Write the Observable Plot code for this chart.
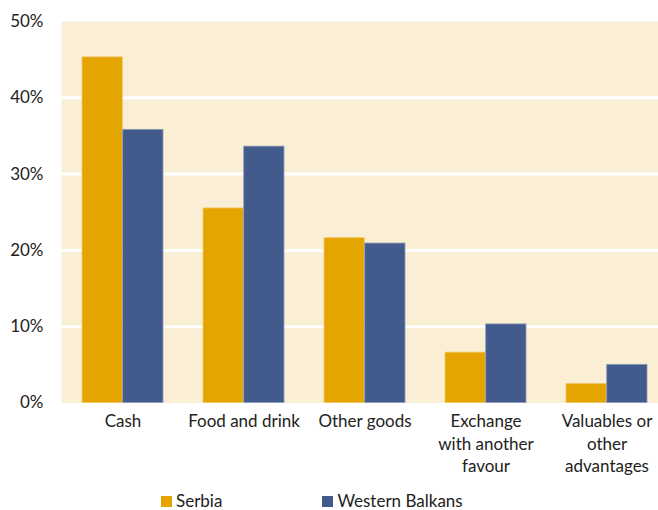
<!DOCTYPE html>
<html>
<head>
<meta charset="utf-8">
<script src="https://cdn.jsdelivr.net/npm/d3@7"></script>
<script src="https://cdn.jsdelivr.net/npm/@observablehq/plot@0.6"></script>
<style>
  html, body { margin: 0; padding: 0; background: #fff; overflow: hidden; width: 658px; height: 510px; }
  #wrap { position: relative; width: 658px; height: 510px; overflow: hidden; font-family: Lato, "Open Sans", sans-serif; }
  #chart svg { max-width: none !important; }
  #legend { position: absolute; left: 161px; top: 493px; display: flex; align-items: center; font-size: 17px; line-height: 16px; color: #222; }
  .item { display: flex; align-items: center; }
  .sw { width: 11px; height: 11px; margin-right: 4px; }
</style>
</head>
<body>
<div id="wrap">
  <div id="chart"></div>
  <div id="legend"></div>
</div>
<script>
const categories = ["Cash", "Food and drink", "Other goods", "Exchange\nwith another\nfavour", "Valuables or\nother\nadvantages"];
const serbia = [45.3, 25.5, 21.6, 6.6, 2.5];
const westernBalkans = [35.8, 33.6, 20.9, 10.3, 5.0];
const seriesNames = ["Serbia", "Western Balkans"];
const seriesColors = ["#e5a500", "#425b8c"];
const yTicks = [0, 10, 20, 30, 40, 50];
const gridTicks = [10, 20, 30, 40];

const data = [];
categories.forEach((c, i) => {
  data.push({category: c, series: seriesNames[0], value: serbia[i]});
  data.push({category: c, series: seriesNames[1], value: westernBalkans[i]});
});

const chart = Plot.plot({
  width: 668,
  height: 480,
  marginLeft: 61,
  marginRight: 0,
  marginTop: 21,
  marginBottom: 77.5,
  style: {fontFamily: "Lato, 'Open Sans', sans-serif", fontSize: "17px", color: "#222", background: "transparent", maxWidth: "none"},
  x: {domain: categories, padding: 0, label: null},
  y: {domain: [0, 50], label: null},
  color: {domain: seriesNames, range: seriesColors},
  marks: [
    Plot.frame({fill: "#faeed4", stroke: null}),
    Plot.ruleY(gridTicks, {stroke: "#ffffff", strokeWidth: 3}),
    Plot.barY(data.filter(d => d.series === seriesNames[0]), {
      x: "category", y: "value", fill: "series",
      insetLeft: 20, insetRight: 60.7,
      stroke: "#f2c866", strokeWidth: 0.8
    }),
    Plot.barY(data.filter(d => d.series === seriesNames[1]), {
      x: "category", y: "value", fill: "series",
      insetLeft: 60.7, insetRight: 20,
      stroke: "#8d9cbb", strokeWidth: 0.8
    }),
    Plot.axisY({ticks: yTicks, tickFormat: d => d + "%", tickSize: 0, tickPadding: 18, label: null, fontSize: 17}),
    Plot.axisX({tickSize: 0, tickPadding: 8, label: null, lineHeight: 1.33, fontSize: 17})
  ]
});
document.getElementById("chart").appendChild(chart);

const legend = document.getElementById("legend");
seriesNames.forEach((name, i) => {
  const it = document.createElement("div");
  it.className = "item";
  it.style.marginRight = i === 0 ? "100px" : "0";
  const sw = document.createElement("div");
  sw.className = "sw";
  sw.style.background = seriesColors[i];
  const t = document.createElement("span");
  t.textContent = name;
  it.appendChild(sw);
  it.appendChild(t);
  legend.appendChild(it);
});
</script>
</body>
</html>
